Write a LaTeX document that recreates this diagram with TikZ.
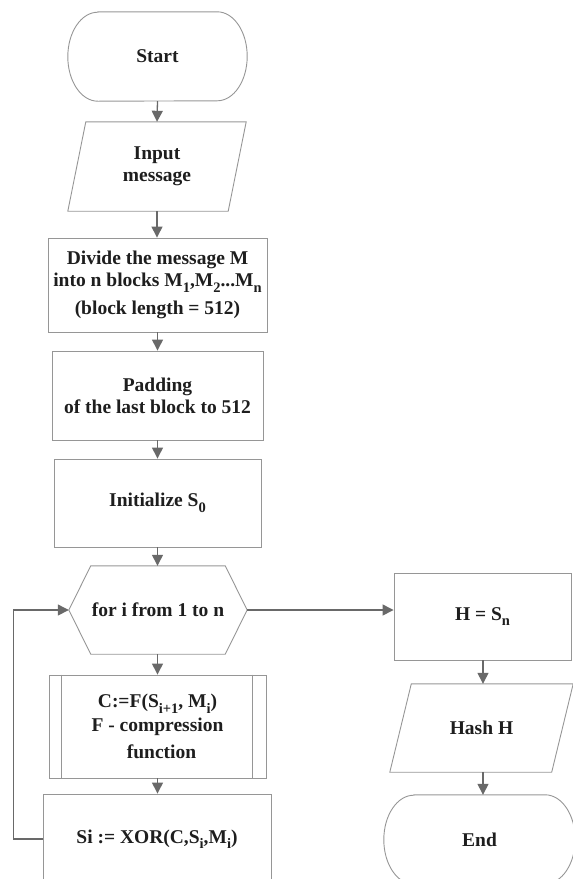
\documentclass[tikz,border=0pt]{standalone}
\usepackage{fontspec}
\setmainfont{Liberation Serif}
\usetikzlibrary{arrows.meta}
\definecolor{edgegray}{RGB}{150,150,150}
\definecolor{arrgray}{RGB}{105,105,105}
\definecolor{txtgray}{RGB}{30,30,30}
\newcommand\subidx[1]{\raisebox{-5.5pt}{\fontsize{14.5}{14.5}\selectfont #1}}
\tikzset{
  base/.style={font=\fontsize{19.5}{22}\selectfont\bfseries, text=txtgray, align=center, inner sep=0pt},
  box/.style={base, draw=edgegray, line width=0.9pt, rectangle},
  ghost/.style={base, rectangle},
  shp/.style={draw=edgegray, line width=0.9pt},
  conn/.style={draw=arrgray, line width=1.3pt, -{Triangle[width=11pt,length=11pt]}},
}
\begin{document}
\begin{tikzpicture}[x=1pt, y=-1pt]
\useasboundingbox (0,0) rectangle (573,879);
\clip (0,0) rectangle (573,879);

% Start terminator
\node[ghost, minimum width=179pt, minimum height=89pt] (start) at (157.5,56.5) {Start};
\draw[shp] ([xshift=30pt]start.north west) -- ([xshift=-30pt]start.north east)
  arc[start angle=90, end angle=-90, x radius=30pt, y radius=44.5pt]
  -- ([xshift=30pt]start.south west)
  arc[start angle=270, end angle=90, x radius=30pt, y radius=44.5pt] -- cycle;

% Input parallelogram
\node[ghost, minimum width=178pt, minimum height=89pt] (input) at (157,166.5) {Input\\message};
\draw[shp] (input.south west) -- ([xshift=-18pt]input.south east) -- (input.north east)
  -- ([xshift=18pt]input.north west) -- cycle;

% Divide
\node[box, minimum width=219pt, minimum height=94pt] (divide) at (157.5,285)
  {Divide the message M\\into n blocks M\subidx{1},M\subidx{2}...M\subidx{n}\\[6pt](block length = 512)};

% Padding
\node[box, minimum width=211pt, minimum height=89pt] (padding) at (157.5,395.5)
  {Padding\\of the last block to 512};

% Initialize
\node[box, minimum width=207pt, minimum height=88pt] (init) at (157.5,503)
  {Initialize S\subidx{0}};

% Hexagon loop
\node[ghost, minimum width=178pt, minimum height=88pt] (loop) at (158,610) {for i from 1 to n};
\draw[shp] (loop.west) -- ([xshift=22pt]loop.north west) -- ([xshift=-22pt]loop.north east)
  -- (loop.east) -- ([xshift=-22pt]loop.south east) -- ([xshift=22pt]loop.south west) -- cycle;

% Predefined process
\node[box, minimum width=217pt, minimum height=103pt] (comp) at (157.5,726.5)
  {C:=F(S\subidx{i+1}, M\subidx{i})\\[2pt]F - compression\\[5pt]\hspace*{8pt}function};
\draw[shp] ([xshift=13pt]comp.north west) -- ([xshift=13pt]comp.south west);
\draw[shp] ([xshift=-14pt]comp.north east) -- ([xshift=-14pt]comp.south east);

% Si box
\node[box, minimum width=228pt, minimum height=90pt] (si) at (157,839)
  {Si := XOR(C,S\subidx{i},M\subidx{i})};

% Right column
\node[box, minimum width=177pt, minimum height=87pt] (hbox) at (482.5,616.5) {H = S\subidx{n}};

\node[ghost, minimum width=183pt, minimum height=88pt] (hash) at (481.5,728) {Hash H};
\draw[shp] (hash.south west) -- ([xshift=-21.5pt]hash.south east) -- (hash.north east)
  -- ([xshift=21.5pt]hash.north west) -- cycle;

\node[ghost, minimum width=191pt, minimum height=89pt] (end) at (479.5,839.5) {End};
\draw[shp] ([xshift=30pt]end.north west) -- ([xshift=-30pt]end.north east)
  arc[start angle=90, end angle=-90, x radius=30pt, y radius=44.5pt]
  -- ([xshift=30pt]end.south west)
  arc[start angle=270, end angle=90, x radius=30pt, y radius=44.5pt] -- cycle;

% Connectors
\draw[conn] (start.south) -- (input.north);
\draw[conn] (input.south) -- (input.south |- divide.north);
\draw[conn] (divide.south) -- (padding.north);
\draw[conn] (padding.south) -- (init.north);
\draw[conn] (init.south) -- (init.south |- loop.north);
\draw[conn] (init.south |- loop.south) -- (init.south |- comp.north);
\draw[conn] (comp.south) -- (comp.south |- si.north);
\draw[conn] (loop.east) -- (hbox.west |- loop.east);
\coordinate (hx) at ([xshift=0.5pt]hbox.south);
\draw[conn] (hx) -- (hx |- hash.north);
\draw[conn] (hx |- hash.south) -- (hx |- end.north);
\draw[conn] (si.west) -- ++(-29,0) |- (loop.west);
\end{tikzpicture}
\end{document}
